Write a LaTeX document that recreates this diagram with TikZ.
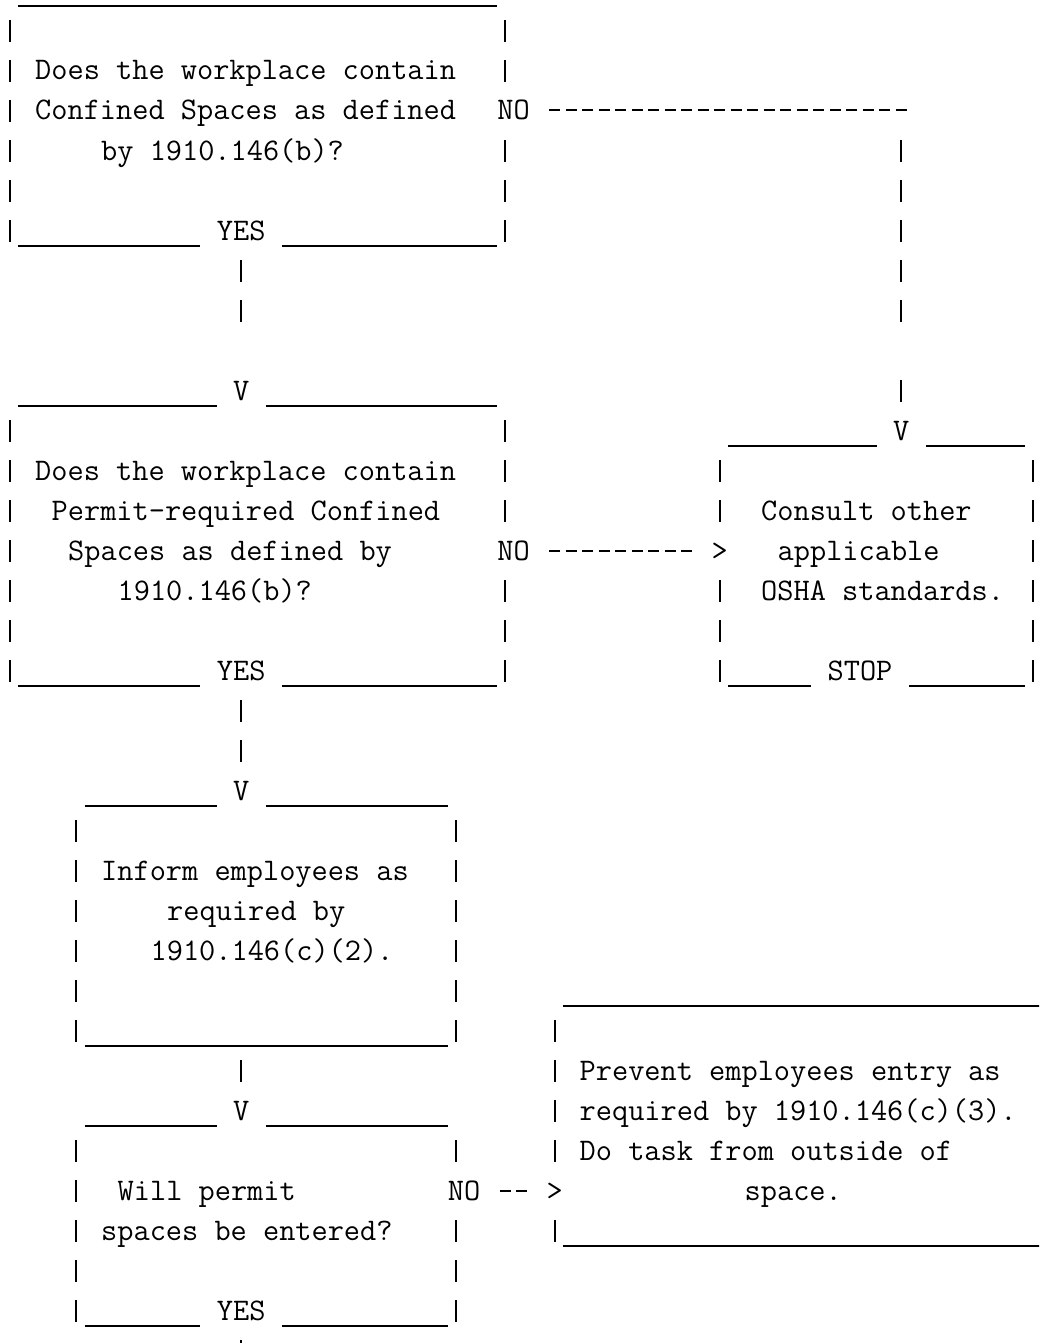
\documentclass[tikz,border=0pt]{standalone}
\usepackage{tikz}
\newcommand{\mono}{\fontsize{31.43pt}{40pt}\ttfamily}

\begin{document}
\begin{tikzpicture}[x=16.5pt, y=40pt, font=\mono,
  under/.style={line width=2pt},
  pipes/.style={line width=2pt, dash pattern=on 22pt off 18pt},
  dashes/.style={line width=2pt, dash pattern=on 11pt off 5.5pt, shorten <=2.75pt},
  txt/.style={anchor=base west, inner sep=0pt},
  lab/.style={anchor=base, fill=white, inner xsep=16.5pt, inner ysep=9pt,
    text height=19pt, text depth=0pt}]
  \useasboundingbox (-0.1212,0) rectangle (62.8485,-33.575);
  \clip (-0.1212,0) rectangle (62.8485,-33.575);

  % Rámeček 1
  \draw[under] (1,-0.15) -- (30,-0.15);
  \draw[pipes] (0.5,-0.5) -- (0.5,-6.05);
  \draw[pipes] (30.5,-0.5) -- (30.5,-6.05);
  \draw[under] (1,-6.15) -- (30,-6.15);
  % Rámeček 2
  \draw[under] (1,-10.15) -- (30,-10.15);
  \draw[pipes] (0.5,-10.5) -- (0.5,-17.05);
  \draw[pipes] (30.5,-10.5) -- (30.5,-17.05);
  \draw[under] (1,-17.15) -- (30,-17.15);
  % Rámeček STOP
  \draw[under] (44,-11.15) -- (62,-11.15);
  \draw[pipes] (43.5,-11.5) -- (43.5,-17.05);
  \draw[pipes] (62.5,-11.5) -- (62.5,-17.05);
  \draw[under] (44,-17.15) -- (62,-17.15);
  % Rámeček 3
  \draw[under] (5,-20.15) -- (27,-20.15);
  \draw[pipes] (4.5,-20.5) -- (4.5,-26.05);
  \draw[pipes] (27.5,-20.5) -- (27.5,-26.05);
  \draw[under] (5,-26.15) -- (27,-26.15);
  % Rámeček 4
  \draw[under] (5,-28.15) -- (27,-28.15);
  \draw[pipes] (4.5,-28.5) -- (4.5,-33.05);
  \draw[pipes] (27.5,-28.5) -- (27.5,-33.05);
  \draw[under] (5,-33.15) -- (27,-33.15);
  % Rámeček vpravo dole
  \draw[under] (34,-25.15) -- (64,-25.15);
  \draw[pipes] (33.5,-25.5) -- (33.5,-31.05);
  \draw[under] (34,-31.15) -- (64,-31.15);

  % Popisky na čarách
  \node[lab] (yesA) at (14.5,-6) {YES};
  \node[lab] (noA) at (31,-3) {NO};
  \node[lab] (vB) at (14.5,-10) {V};
  \node[lab] (yesB) at (14.5,-17) {YES};
  \node[lab] (noB) at (31,-14) {NO};
  \node[lab] (vC) at (54.5,-11) {V};
  \node[lab] (gtC) at (43.5,-14) {>};
  \node[lab] (stopC) at (52,-17) {STOP};
  \node[lab] (vD) at (14.5,-20) {V};
  \node[lab] (vE) at (14.5,-28) {V};
  \node[lab] (yesE) at (14.5,-33) {YES};
  \node[lab] (noE) at (28,-30) {NO};
  \node[lab] (gtF) at (33.5,-30) {>};

  % Texty
  \node[txt] (qa1) at (2,-2) {Does the workplace contain};
  \node[txt] (qa2) at (2,-3) {Confined Spaces as defined};
  \node[txt] (qa3) at (6,-4) {by 1910.146(b)?};
  \node[txt] (qb1) at (2,-12) {Does the workplace contain};
  \node[txt] (qb2) at (3,-13) {Permit-required Confined};
  \node[txt] (qb3) at (4,-14) {Spaces as defined by};
  \node[txt] (qb4) at (7,-15) {1910.146(b)?};
  \node[txt] (sc1) at (46,-13) {Consult other};
  \node[txt] (sc2) at (47,-14) {applicable};
  \node[txt] (sc3) at (46,-15) {OSHA standards.};
  \node[txt] (qd1) at (6,-22) {Inform employees as};
  \node[txt] (qd2) at (10,-23) {required by};
  \node[txt] (qd3) at (9,-24) {1910.146(c)(2).};
  \node[txt] (qe1) at (7,-30) {Will permit};
  \node[txt] (qe2) at (6,-31) {spaces be entered?};
  \node[txt] (pf1) at (35,-27) {Prevent employees entry as};
  \node[txt] (pf2) at (35,-28) {required by 1910.146(c)(3).};
  \node[txt] (pf3) at (35,-29) {Do task from outside of};
  \node[txt] (pf4) at (45,-30) {space.};

  % Spojnice
  \draw[pipes, shorten <=11pt, shorten >=50pt] (yesA) -- (vB);
  \draw[pipes, shorten <=11pt, shorten >=10pt] (yesB) -- (vD);
  \coordinate (dolD) at (14.5,-26.15);
  \draw[pipes, shorten <=14pt, shorten >=10pt] (dolD) -- (vE);
  \coordinate (dolE) at (14.5,-34.05);
  \draw[pipes, shorten <=11pt] (yesE) -- (dolE);
  \coordinate (rohA) at (noA -| 54.5,0);
  \draw[dashes, shorten >=-8.25pt] (noA) -- (rohA);
  \draw[line width=2pt, shorten <=29.5pt, shorten >=10pt,
    dash pattern=on 22pt off 18pt on 22pt off 18pt on 22pt off 18pt
    on 22pt off 18pt on 22pt off 58pt on 22pt off 18pt] (rohA) -- (vC);
  \draw[dashes] (noB) -- (gtC);
  \draw[dashes] (noE) -- (gtF);
\end{tikzpicture}
\end{document}
